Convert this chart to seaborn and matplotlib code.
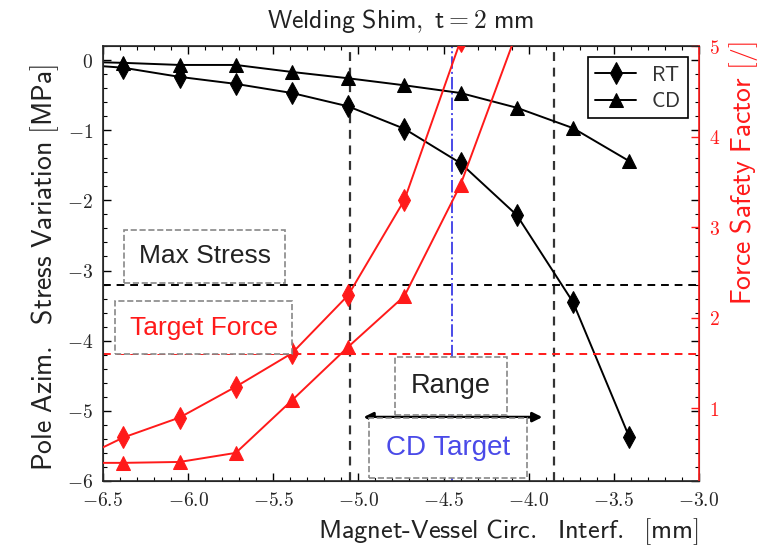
import matplotlib
matplotlib.use("Agg")
import matplotlib.pyplot as plt
from matplotlib.ticker import MultipleLocator, FuncFormatter
import seaborn as sns
import pandas as pd

# Circumferential interference values [mm]
interf = [-6.71, -6.38, -6.05, -5.72, -5.39, -5.06, -4.73, -4.40, -4.07, -3.74, -3.41]
# Pole azimuthal stress variation [MPa]
stress_rt = [-0.05, -0.11, -0.24, -0.34, -0.47, -0.66, -0.98, -1.47, -2.21, -3.45, -5.37]
stress_cd = [-0.02, -0.04, -0.07, -0.07, -0.17, -0.26, -0.36, -0.47, -0.68, -0.97, -1.44]
# Force safety factor [/]
force_rt = [0.38, 0.68, 0.90, 1.24, 1.61, 2.25, 3.30, 5.06]
force_cd = [0.40, 0.40, 0.41, 0.51, 1.09, 1.68, 2.24, 3.47, 5.15]

max_stress = -3.2
target_force = 1.6
range_lo, range_hi = -5.05, -3.85
cd_target = -4.45

sns.set_style("ticks")
plt.rcParams["mathtext.fontset"] = "cm"
plt.rcParams["font.family"] = ["DejaVu Sans"]

RED = "#ff1a1a"
BLUE = "#4a4ae8"
BOXFONT = "Liberation Sans"

df_stress = pd.DataFrame({"x": interf, "RT": stress_rt, "CD": stress_cd})
df_frt = pd.DataFrame({"x": interf[:len(force_rt)], "F": force_rt})
df_fcd = pd.DataFrame({"x": interf[:len(force_cd)], "F": force_cd})

fig = plt.figure(figsize=(7.61, 5.49), dpi=100)
ax = fig.add_axes([0.1353, 0.1239, 0.7832, 0.7923])
ax2 = ax.twinx()

# reference lines
ax.axvline(range_lo, color="#333333", ls=(0, (4, 3)), lw=1.6, zorder=1)
ax.axvline(range_hi, color="#333333", ls=(0, (4, 3)), lw=1.6, zorder=1)
ax.axvline(cd_target, color=BLUE, ls="-.", lw=1.4, zorder=1)
ax.axhline(max_stress, color="black", ls=(0, (4, 3)), lw=1.4, zorder=1)
ax2.axhline(target_force, color=RED, ls=(0, (4, 3)), lw=1.4, zorder=1)

# stress curves
sns.lineplot(data=df_stress, x="x", y="RT", ax=ax, color="black", marker="d",
             markersize=11, lw=1.4, label="RT", markeredgecolor="black", zorder=3)
sns.lineplot(data=df_stress, x="x", y="CD", ax=ax, color="black", marker="^",
             markersize=10, lw=1.4, label="CD", markeredgecolor="black", zorder=3)

# force safety factor curves
sns.lineplot(data=df_frt, x="x", y="F", ax=ax2, color=RED, marker="d",
             markersize=11, lw=1.4, markeredgecolor=RED, legend=False, zorder=3)
sns.lineplot(data=df_fcd, x="x", y="F", ax=ax2, color=RED, marker="^",
             markersize=10, lw=1.4, markeredgecolor=RED, legend=False, zorder=3)

ax.set_xlim(-6.5, -3.0)
ax.set_ylim(-6.0, 0.2)
ax2.set_ylim(0.2, 5.0)

ax.xaxis.set_major_locator(MultipleLocator(0.5))
ax.xaxis.set_minor_locator(MultipleLocator(0.1))
ax.yaxis.set_major_locator(MultipleLocator(1))
ax.yaxis.set_minor_locator(MultipleLocator(0.2))
ax2.yaxis.set_major_locator(MultipleLocator(1))

ax.xaxis.set_major_formatter(FuncFormatter(lambda v, p: r"$%.1f$" % v))
ax.yaxis.set_major_formatter(FuncFormatter(lambda v, p: r"$%d$" % round(v)))
ax2.yaxis.set_major_formatter(FuncFormatter(lambda v, p: r"$%d$" % round(v)))

ax.tick_params(which="both", direction="in", top=True, right=True,
               labelsize=14, pad=7, color="black")
ax.tick_params(which="major", length=6, width=1)
ax.tick_params(which="minor", length=3, width=0.8)
ax2.tick_params(axis="y", which="major", direction="in", length=6, width=1,
                colors=RED, labelsize=14, pad=7)
ax2.spines["right"].set_color(RED)
ax2.spines["right"].set_linewidth(1.2)
for s in ["left", "top", "bottom"]:
    ax.spines[s].set_linewidth(1.2)

ax.set_xlabel(r"$\mathsf{Magnet\text{-}Vessel\ Circ.\ \ Interf.\ \ [mm]}$",
              fontsize=19, loc="right", color="#222222")
ax.xaxis.set_label_coords(1.0, -0.082)
ax.set_ylabel(r"$\mathsf{Pole\ Azim.\ \ Stress\ Variation\ [MPa]}$",
              fontsize=20, color="#222222")
ax.yaxis.set_label_coords(-0.07, 0.49)
ax2.set_ylabel(r"$\mathsf{Force\ Safety\ Factor\ [/]}$", fontsize=20,
               color=RED, loc="top")
ax2.yaxis.set_label_coords(1.047, 1.01)

fig.text(0.527, 0.962, r"$\mathsf{Welding\ Shim,\ t} = \mathsf{2\ mm}$",
         ha="center", va="center", fontsize=18.5, color="#222222")

leg = ax.legend(loc="upper right", fontsize=15, frameon=True, fancybox=False,
                edgecolor="black", framealpha=1, handlelength=2.0,
                handletextpad=0.7, borderaxespad=0.55, borderpad=0.35,
                labelspacing=0.3)
leg.get_frame().set_linewidth(1.2)
for t in leg.get_texts():
    t.set_text(r"$\mathsf{%s}$" % t.get_text())
    t.set_color("#333333")

# annotation boxes
box = dict(boxstyle="square,pad=0.55", fc="white", ec="#888888", ls="--", lw=1.2)
ax2.text(0.171, 0.517, "Max Stress", transform=ax2.transAxes, ha="center",
         va="center", fontsize=19, family=BOXFONT, color="#222222", bbox=box, zorder=10)
ax2.text(0.169, 0.352, "Target Force", transform=ax2.transAxes, ha="center",
         va="center", fontsize=19, family=BOXFONT, color=RED, bbox=box, zorder=10)
ax2.text(0.584, 0.218, "Range", transform=ax2.transAxes, ha="center",
         va="center", fontsize=19.5, family=BOXFONT, color="#222222",
         bbox=dict(box, boxstyle="square,pad=0.6"), zorder=10)
ax2.text(0.579, 0.076, "CD Target", transform=ax2.transAxes, ha="center",
         va="center", fontsize=20, family=BOXFONT, color=BLUE,
         bbox=dict(box, boxstyle="square,pad=0.6"), zorder=10)

ax.annotate("", xy=(-3.92, -5.09), xytext=(-4.97, -5.09),
            arrowprops=dict(arrowstyle="<|-|>", color="black", lw=2,
                            mutation_scale=14, shrinkA=0, shrinkB=0), zorder=6)

fig.savefig("out.png", dpi=100)
